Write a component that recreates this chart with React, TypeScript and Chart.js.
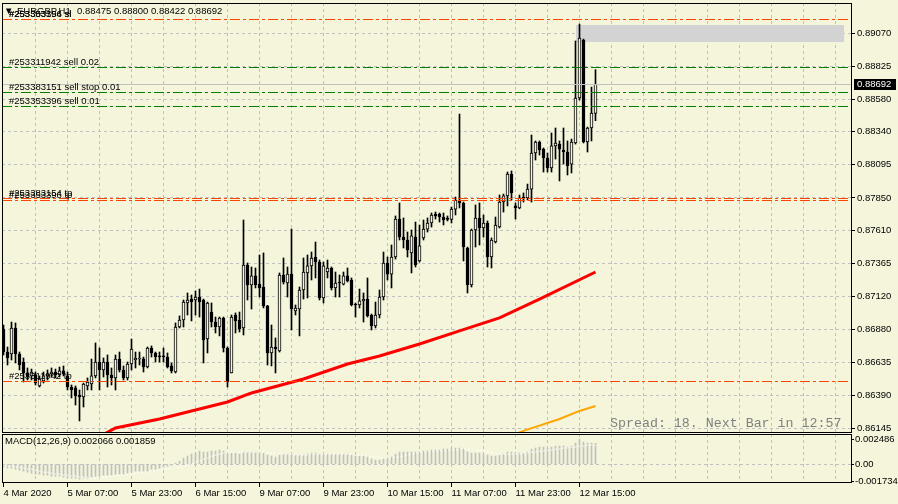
import React, { useEffect, useRef } from 'react';
import { Chart, registerables } from 'chart.js';
Chart.register(...registerables);

const BG = '#F5F5DC';
const FONT = '"Liberation Sans", Arial, sans-serif';
const FS = 9.5;

// ---- OHLC (EURGBP H1) ----
const opens = [0.86880,0.86710,0.86695,0.86888,0.86695,0.86636,0.86555,0.86533,0.86540,0.86459,0.86496,0.86533,0.86547,0.86562,0.86540,0.86570,0.86533,0.86451,0.86444,0.86392,0.86377,0.86459,0.86473,0.86533,0.86636,0.86577,0.86636,0.86540,0.86518,0.86658,0.86577,0.86518,0.86621,0.86651,0.86658,0.86660,0.86599,0.86740,0.86703,0.86681,0.86681,0.86673,0.86607,0.86562,0.86895,0.86947,0.87073,0.87102,0.87095,0.87117,0.87095,0.86806,0.87006,0.86932,0.86895,0.86962,0.86740,0.86555,0.86984,0.86947,0.86888,0.87354,0.87206,0.87273,0.87213,0.87191,0.87051,0.86703,0.86747,0.86718,0.87280,0.87221,0.87287,0.87014,0.87028,0.87169,0.87295,0.87347,0.87413,0.87376,0.87110,0.87302,0.87332,0.87184,0.87228,0.87213,0.87273,0.87243,0.87065,0.87058,0.87088,0.87102,0.86984,0.86903,0.86984,0.87117,0.87369,0.87287,0.87413,0.87694,0.87561,0.87539,0.87443,0.87561,0.87384,0.87554,0.87620,0.87665,0.87731,0.87731,0.87709,0.87702,0.87691,0.87768,0.87835,0.87813,0.87480,0.87206,0.87613,0.87702,0.87628,0.87665,0.87413,0.87524,0.87635,0.87820,0.87865,0.88027,0.87791,0.87776,0.87857,0.87850,0.87916,0.88183,0.88264,0.88212,0.88146,0.88072,0.88235,0.88249,0.88205,0.88190,0.88101,0.88257,0.88590,0.89019,0.88264,0.88368,0.88475];
const highs = [0.86910,0.86747,0.86932,0.86925,0.86710,0.86666,0.86592,0.86584,0.86562,0.86533,0.86562,0.86577,0.86592,0.86584,0.86599,0.86607,0.86562,0.86466,0.86459,0.86429,0.86480,0.86518,0.86658,0.86777,0.86740,0.86666,0.86688,0.86592,0.86688,0.86710,0.86607,0.86636,0.86806,0.86710,0.86710,0.86673,0.86747,0.86755,0.86710,0.86710,0.86740,0.86703,0.86629,0.86925,0.86977,0.87095,0.87147,0.87132,0.87162,0.87176,0.87102,0.87080,0.87073,0.86969,0.86969,0.86969,0.86747,0.86984,0.86999,0.87006,0.87687,0.87369,0.87339,0.87332,0.87428,0.87443,0.87055,0.86910,0.86814,0.87295,0.87406,0.87339,0.87620,0.87058,0.87191,0.87406,0.87428,0.87450,0.87524,0.87391,0.87376,0.87391,0.87339,0.87302,0.87280,0.87302,0.87332,0.87258,0.87073,0.87176,0.87147,0.87258,0.86991,0.87080,0.87169,0.87450,0.87413,0.87502,0.87717,0.87813,0.87702,0.87598,0.87613,0.87672,0.87650,0.87687,0.87702,0.87739,0.87746,0.87739,0.87739,0.87717,0.87783,0.87857,0.88471,0.87820,0.87487,0.87620,0.87798,0.87813,0.87724,0.87680,0.87554,0.87709,0.87872,0.87879,0.88042,0.88050,0.87813,0.87872,0.87887,0.87953,0.88316,0.88272,0.88272,0.88220,0.88183,0.88331,0.88368,0.88272,0.88368,0.88272,0.88286,0.89012,0.89137,0.89026,0.88375,0.88671,0.88800];
const lows = [0.86688,0.86614,0.86651,0.86629,0.86577,0.86488,0.86503,0.86503,0.86466,0.86451,0.86481,0.86503,0.86525,0.86518,0.86525,0.86533,0.86429,0.86370,0.86318,0.86200,0.86303,0.86429,0.86429,0.86518,0.86429,0.86525,0.86451,0.86466,0.86429,0.86562,0.86503,0.86503,0.86577,0.86592,0.86614,0.86562,0.86592,0.86673,0.86636,0.86636,0.86636,0.86592,0.86555,0.86555,0.86888,0.86895,0.86984,0.86940,0.86984,0.86969,0.86629,0.86703,0.86895,0.86851,0.86829,0.86710,0.86451,0.86555,0.86851,0.86858,0.86836,0.87095,0.87028,0.87184,0.87117,0.87036,0.86614,0.86607,0.86555,0.86710,0.87213,0.87117,0.86873,0.86984,0.86829,0.87102,0.87110,0.87243,0.87258,0.87095,0.87073,0.87258,0.87169,0.87117,0.87117,0.87206,0.87228,0.87051,0.86969,0.87036,0.86932,0.86969,0.86873,0.86888,0.86962,0.87095,0.87243,0.87184,0.87398,0.87539,0.87480,0.87413,0.87295,0.87339,0.87376,0.87539,0.87598,0.87635,0.87694,0.87672,0.87650,0.87680,0.87665,0.87724,0.87776,0.87384,0.87147,0.87191,0.87487,0.87502,0.87561,0.87339,0.87332,0.87517,0.87628,0.87746,0.87791,0.87835,0.87694,0.87770,0.87820,0.87835,0.87820,0.88131,0.88168,0.88042,0.88042,0.88042,0.88138,0.87976,0.88101,0.88020,0.88035,0.88249,0.88575,0.88257,0.88190,0.88272,0.88422];
const closes = [0.86710,0.86666,0.86888,0.86695,0.86614,0.86555,0.86525,0.86562,0.86481,0.86510,0.86533,0.86547,0.86562,0.86540,0.86570,0.86547,0.86451,0.86429,0.86385,0.86377,0.86473,0.86488,0.86533,0.86636,0.86577,0.86636,0.86540,0.86518,0.86658,0.86577,0.86518,0.86621,0.86732,0.86666,0.86660,0.86599,0.86740,0.86703,0.86673,0.86673,0.86673,0.86599,0.86570,0.86895,0.86947,0.87080,0.87095,0.87080,0.87117,0.87080,0.86799,0.87073,0.86932,0.86895,0.86962,0.86740,0.86488,0.86969,0.86940,0.86880,0.87354,0.87206,0.87273,0.87206,0.87184,0.87051,0.86703,0.86747,0.86732,0.87280,0.87228,0.87287,0.87028,0.87036,0.87169,0.87302,0.87347,0.87406,0.87376,0.87110,0.87347,0.87332,0.87184,0.87221,0.87221,0.87273,0.87236,0.87058,0.87058,0.87088,0.87102,0.86977,0.86903,0.86984,0.87117,0.87369,0.87287,0.87413,0.87694,0.87561,0.87539,0.87465,0.87569,0.87354,0.87495,0.87620,0.87665,0.87724,0.87717,0.87709,0.87687,0.87691,0.87768,0.87835,0.87813,0.87487,0.87206,0.87613,0.87702,0.87628,0.87665,0.87413,0.87539,0.87650,0.87820,0.87865,0.88027,0.87887,0.87776,0.87850,0.87850,0.87916,0.88183,0.88264,0.88205,0.88146,0.88072,0.88235,0.88257,0.88212,0.88190,0.88087,0.88264,0.88590,0.89034,0.88264,0.88368,0.88479,0.88692];

// ---- moving averages (sampled bars) ----
const redMaIdx = [20, 28, 39, 49, 56, 62, 75, 86, 94, 104, 114, 124, 134, 148];
const redMaVal = [0.86020, 0.86148, 0.86214, 0.86288, 0.86340, 0.86407, 0.86510, 0.86621, 0.86681, 0.86769, 0.86866, 0.86962, 0.87102, 0.87302];
const orangeMaIdx = [128, 130, 139, 144, 148];
const orangeMaVal = [0.86103, 0.86126, 0.86214, 0.86274, 0.86311];

// ---- MACD(12,26,9) ----
const macdMain = [
-0.0003,-0.0004,-0.0004,-0.0005,-0.0006,-0.0007,-0.0008,-0.0009,
-0.0010,-0.0010,-0.0011,-0.0011,-0.0012,-0.0012,-0.0012,-0.0013,
-0.0013,-0.0014,-0.0014,-0.0015,-0.0014,-0.0014,-0.0013,-0.0012,
-0.0012,-0.0011,-0.0011,-0.0011,-0.0010,-0.0010,-0.0010,-0.0009,
-0.0008,-0.0007,-0.0007,-0.0007,-0.0007,-0.0005,-0.0005,-0.0004,
-0.0003,-0.0002,-0.0001,0.0001,0.0003,0.0006,0.0008,0.0010,
0.0011,0.0013,0.0012,0.0012,0.0013,0.0013,0.0014,0.0013,
0.0010,0.0011,0.0011,0.0010,0.0012,0.0012,0.0012,0.0012,
0.0012,0.0011,0.0009,0.0008,0.0007,0.0009,0.0010,0.0010,
0.0010,0.0009,0.0009,0.0009,0.0010,0.0011,0.0011,0.0010,
0.0010,0.0010,0.0010,0.0010,0.0010,0.0010,0.0010,0.0009,
0.0008,0.0008,0.0008,0.0007,0.0005,0.0004,0.0004,0.0005,
0.0006,0.0007,0.0010,0.0012,0.0012,0.0012,0.0012,0.0012,
0.0012,0.0013,0.0013,0.0014,0.0014,0.0014,0.0015,0.0015,
0.0015,0.0016,0.0016,0.0015,0.0012,0.0011,0.0011,0.0011,
0.0010,0.0009,0.0008,0.0008,0.0009,0.0010,0.0012,0.0012,
0.0011,0.0011,0.0011,0.0012,0.0015,0.0016,0.0017,0.0017,
0.0016,0.0017,0.0018,0.0018,0.0018,0.0017,0.0018,0.0021,
0.002486,0.0022,0.0021,0.0021,0.002066];
const macdSignal = [
-0.0001,-0.0002,-0.0002,-0.0003,-0.0003,-0.0004,-0.0005,-0.0005,
-0.0006,-0.0007,-0.0008,-0.0008,-0.0009,-0.0010,-0.0010,-0.0011,
-0.0011,-0.0012,-0.0012,-0.0013,-0.0013,-0.0013,-0.0014,-0.0014,
-0.0013,-0.0013,-0.0013,-0.0012,-0.0012,-0.0011,-0.0011,-0.0010,
-0.0010,-0.0009,-0.0009,-0.0008,-0.0008,-0.0007,-0.0007,-0.0006,
-0.0006,-0.0005,-0.0004,-0.0004,-0.0003,-0.0002,-0.0001,0.0000,
0.0002,0.0003,0.0005,0.0006,0.0008,0.0009,0.0010,0.0011,
0.0012,0.0012,0.0012,0.0012,0.0012,0.0012,0.0012,0.0012,
0.0012,0.0012,0.0011,0.0011,0.0011,0.0010,0.0010,0.0010,
0.0010,0.0009,0.0009,0.0009,0.0009,0.0010,0.0010,0.0010,
0.0010,0.0010,0.0010,0.0010,0.0010,0.0010,0.0010,0.0010,
0.0009,0.0009,0.0009,0.0008,0.0008,0.0007,0.0007,0.0006,
0.0006,0.0006,0.0007,0.0007,0.0008,0.0009,0.0010,0.0011,
0.0011,0.0012,0.0012,0.0013,0.0013,0.0013,0.0014,0.0014,
0.0014,0.0014,0.0015,0.0015,0.0015,0.0015,0.0014,0.0014,
0.0013,0.0012,0.0012,0.0011,0.0010,0.0010,0.0010,0.0010,
0.0010,0.0010,0.0011,0.0011,0.0012,0.0012,0.0013,0.0013,
0.0014,0.0014,0.0015,0.0015,0.0016,0.0016,0.0017,0.0017,
0.0018,0.0018,0.0019,0.0019,0.001859];
const macdTickVals = [0.002486, 0, -0.001734];
const macdTickLabels = ['0.002486', '0.00', '-0.001734'];

// ---- axes ----
const priceTicks = [0.89070, 0.88825, 0.88580, 0.88340, 0.88095, 0.87850, 0.87610, 0.87365, 0.87120, 0.86880, 0.86635, 0.86390, 0.86145];
const gridIdx = [0, 8, 16, 24, 32, 40, 48, 56, 64, 72, 80, 88, 96, 104, 112, 120, 128, 136, 144, 152, 160, 168, 176, 184, 192, 200, 208];
const dateIdx = [0, 16, 32, 48, 64, 80, 96, 112, 128, 144];
const dateLabels = ['4 Mar 2020', '5 Mar 07:00', '5 Mar 23:00', '6 Mar 15:00', '9 Mar 07:00', '9 Mar 23:00', '10 Mar 15:00', '11 Mar 07:00', '11 Mar 23:00', '12 Mar 15:00'];

// ---- trade objects ----
const levelPrices = [0.89174, 0.89174, 0.88819, 0.88632, 0.88528, 0.87848, 0.87833, 0.86496];
const levelKinds = ['sl', 'sl', 'sell', 'sell', 'sell', 'tp', 'tp', 'tp'];
const levelLabels = ['#253353396 sl', '#253383154 sl', '#253311942 sell 0.02', '#253383151 sell stop 0.01', '#253353396 sell 0.01', '#253383154 tp', '#253353396 tp', '#253311942 tp'];
const boxIdx = [143, 210];
const boxPrices = [0.89130, 0.89004];

const symbolText = 'EURGBP,H1';
const spreadText = 'Spread: 18. Next Bar in 12:57';
const macdTitle = 'MACD(12,26,9) 0.002066 0.001859';

const X_MIN = -0.375;
const X_MAX = 211.875;
const TRANSPARENT = 'rgba(0,0,0,0)';

const levelColor = (k: string) => (k === 'sell' ? '#008000' : '#FF4500');

export default function App() {
  const mainRef = useRef<HTMLCanvasElement>(null);
  const macdRef = useRef<HTMLCanvasElement>(null);

  useEffect(() => {
    document.body.style.margin = '0';
    document.body.style.background = BG;
    Chart.defaults.font.family = FONT;
    Chart.defaults.font.size = FS;
    Chart.defaults.color = '#000';

    const idx = closes.map((_, i) => i);
    const last = closes.length - 1;
    const fontStr = FS + 'px ' + FONT;

    const mainOverlay = {
      id: 'mainOverlay',
      beforeDatasetsDraw(chart: any) {
        const { ctx, scales } = chart;
        const x = scales.x, y = scales.y;
        ctx.save();
        ctx.fillStyle = '#D3D3D3';
        const x1 = x.getPixelForValue(boxIdx[0]);
        const x2 = x.getPixelForValue(boxIdx[1]);
        const y1 = y.getPixelForValue(boxPrices[0]);
        const y2 = y.getPixelForValue(boxPrices[1]);
        ctx.fillRect(Math.round(x1), Math.round(y1), Math.round(x2 - x1), Math.round(y2 - y1));
        ctx.restore();
      },
      afterDatasetsDraw(chart: any) {
        const { ctx, chartArea: a, scales } = chart;
        const y = scales.y;
        ctx.save();
        const cy = Math.round(y.getPixelForValue(closes[last])) + 0.5;
        ctx.strokeStyle = '#C0C0C0';
        ctx.lineWidth = 1;
        ctx.beginPath();
        ctx.moveTo(a.left, cy);
        ctx.lineTo(a.right, cy);
        ctx.stroke();
        ctx.setLineDash([10, 3, 3, 3]);
        levelPrices.forEach((p, i) => {
          const ly = Math.round(y.getPixelForValue(p)) + 0.5;
          ctx.strokeStyle = levelColor(levelKinds[i]);
          ctx.beginPath();
          ctx.moveTo(a.left, ly);
          ctx.lineTo(a.right, ly);
          ctx.stroke();
        });
        ctx.setLineDash([]);
        ctx.font = fontStr;
        ctx.fillStyle = '#000';
        ctx.textBaseline = 'alphabetic';
        ctx.textAlign = 'left';
        levelPrices.forEach((p, i) => {
          const ly = Math.round(y.getPixelForValue(p));
          ctx.fillText(levelLabels[i], 9, ly - 2);
        });
        ctx.fillText('\u25BC', 4, 14);
        ctx.fillText(symbolText, 17, 14);
        ctx.fillText([opens[last], highs[last], lows[last], closes[last]].map(v => v.toFixed(5)).join(' '), 77, 14);
        ctx.font = '13.3px "Liberation Mono", monospace';
        ctx.fillStyle = '#808080';
        ctx.fillText(spreadText, 610, 427);
        ctx.strokeStyle = '#000';
        ctx.lineWidth = 1;
        ctx.strokeRect(a.left + 0.5, a.top + 0.5, a.right - a.left, a.bottom - a.top);
        ctx.fillStyle = '#000';
        ctx.fillRect(854, cy - 5.5, 42, 11);
        ctx.fillStyle = '#FFF';
        ctx.font = fontStr;
        ctx.textBaseline = 'middle';
        ctx.fillText(closes[last].toFixed(5), 857, cy);
        ctx.restore();
      },
    };

    const macdOverlay = {
      id: 'macdOverlay',
      afterDatasetsDraw(chart: any) {
        const { ctx, chartArea: a } = chart;
        ctx.save();
        ctx.strokeStyle = '#000';
        ctx.lineWidth = 1;
        ctx.strokeRect(a.left + 0.5, a.top + 0.5, a.right - a.left, a.bottom - a.top);
        ctx.font = fontStr;
        ctx.fillStyle = '#000';
        ctx.textAlign = 'left';
        ctx.textBaseline = 'alphabetic';
        ctx.fillText(macdTitle, 5, 11);
        ctx.restore();
      },
    };

    const xScaleBase = (showLabels: boolean) => ({
      type: 'linear',
      min: X_MIN,
      max: X_MAX,
      offset: false,
      grid: {
        offset: false,
        color: (c: any) => (c.tick && c.tick.value === 0 ? TRANSPARENT : '#C0C0C0'),
        lineWidth: 1,
        drawTicks: showLabels,
        tickLength: 5,
        tickColor: (c: any) => (c.tick && dateIdx.includes(c.tick.value) ? '#000' : TRANSPARENT),
      },
      border: { display: false, dash: [3, 3] },
      ticks: {
        display: showLabels,
        align: 'start',
        autoSkip: false,
        maxRotation: 0,
        minRotation: 0,
        padding: 1,
        color: '#000',
        font: { family: FONT, size: FS },
        callback: (v: any) => {
          const k = dateIdx.indexOf(Number(v));
          return k >= 0 ? dateLabels[k] : '';
        },
      },
      afterBuildTicks: (s: any) => {
        s.ticks = gridIdx.map(v => ({ value: v }));
      },
      afterFit: (s: any) => {
        s.height = showLabels ? 22 : 0;
        s.paddingLeft = 0;
        s.paddingRight = 0;
      },
    });

    const main = new Chart(mainRef.current as HTMLCanvasElement, {
      type: 'bar',
      data: {
        datasets: [
          {
            type: 'bar',
            data: idx.map(i => ({ x: i, y: [lows[i], highs[i]] })),
            backgroundColor: '#000',
            borderWidth: 0,
            barThickness: 1,
            grouped: false,
            order: 3,
          },
          {
            type: 'bar',
            data: idx.map(i => ({ x: i, y: [opens[i], closes[i]] })),
            backgroundColor: idx.map(i => (closes[i] >= opens[i] ? BG : '#000')),
            borderColor: '#000',
            borderWidth: 1,
            borderSkipped: false,
            barThickness: 3,
            minBarLength: 1,
            grouped: false,
            order: 2,
          },
          {
            type: 'line',
            data: redMaIdx.map((v, k) => ({ x: v, y: redMaVal[k] })),
            borderColor: '#FF0000',
            borderWidth: 3,
            pointRadius: 0,
            tension: 0,
            order: 1,
          },
          {
            type: 'line',
            data: orangeMaIdx.map((v, k) => ({ x: v, y: orangeMaVal[k] })),
            borderColor: '#FFA500',
            borderWidth: 2,
            pointRadius: 0,
            tension: 0,
            order: 1,
          },
        ] as any,
      },
      options: {
        responsive: false,
        devicePixelRatio: 1,
        animation: false,
        events: [],
        layout: { padding: { left: 2, top: 3, right: 0, bottom: 1 } },
        plugins: { legend: { display: false }, tooltip: { enabled: false } },
        scales: {
          x: xScaleBase(false) as any,
          y: {
            type: 'linear',
            position: 'right',
            min: 0.86118,
            max: 0.89293,
            grid: { color: '#C0C0C0', lineWidth: 1, drawTicks: true, tickLength: 4, tickColor: '#000' },
            border: { display: false, dash: [3, 3] },
            ticks: {
              padding: 2,
              color: '#000',
              font: { family: FONT, size: FS },
              autoSkip: false,
              callback: (v: any) => Number(v).toFixed(5),
            },
            afterBuildTicks: (s: any) => {
              s.ticks = priceTicks.map(v => ({ value: v }));
            },
            afterFit: (s: any) => {
              s.width = 47;
              s.paddingTop = 0;
              s.paddingBottom = 0;
            },
          } as any,
        },
      },
      plugins: [mainOverlay],
    } as any);

    const macd = new Chart(macdRef.current as HTMLCanvasElement, {
      type: 'bar',
      data: {
        datasets: [
          {
            type: 'bar',
            data: idx.map(i => ({ x: i, y: macdMain[i] })),
            backgroundColor: '#C0C0C0',
            borderWidth: 0,
            barThickness: 1,
            grouped: false,
            order: 2,
          },
          {
            type: 'line',
            data: idx.map(i => ({ x: i, y: macdSignal[i] })),
            borderColor: '#FFFFFF',
            borderWidth: 1,
            borderDash: [2, 2],
            pointRadius: 0,
            order: 1,
          },
        ] as any,
      },
      options: {
        responsive: false,
        devicePixelRatio: 1,
        animation: false,
        events: [],
        layout: { padding: { left: 2, top: 1, right: 0, bottom: 0 } },
        plugins: { legend: { display: false }, tooltip: { enabled: false } },
        scales: {
          x: xScaleBase(true) as any,
          y: {
            type: 'linear',
            position: 'right',
            min: -0.00178,
            max: 0.0030,
            grid: {
              color: (c: any) => (c.tick && c.tick.value === 0 ? '#C0C0C0' : TRANSPARENT),
              lineWidth: 1,
              drawTicks: true,
              tickLength: 3,
              tickColor: '#000',
            },
            border: { display: false, dash: [3, 3] },
            ticks: {
              padding: 1,
              color: '#000',
              font: { family: FONT, size: FS },
              autoSkip: false,
              callback: (v: any) => {
                const k = macdTickVals.indexOf(Number(v));
                return k >= 0 ? macdTickLabels[k] : '';
              },
            },
            afterBuildTicks: (s: any) => {
              s.ticks = macdTickVals.map(v => ({ value: v }));
            },
            afterFit: (s: any) => {
              s.width = 47;
              s.paddingTop = 0;
              s.paddingBottom = 0;
            },
          } as any,
        },
      },
      plugins: [macdOverlay],
    } as any);

    return () => {
      main.destroy();
      macd.destroy();
    };
  }, []);

  return (
    <div style={{ position: 'relative', width: 898, height: 504, background: BG, overflow: 'hidden' }}>
      <canvas ref={mainRef} width={898} height={433} style={{ position: 'absolute', left: 0, top: 0, width: 898, height: 433 }} />
      <canvas ref={macdRef} width={898} height={71} style={{ position: 'absolute', left: 0, top: 433, width: 898, height: 71 }} />
    </div>
  );
}
